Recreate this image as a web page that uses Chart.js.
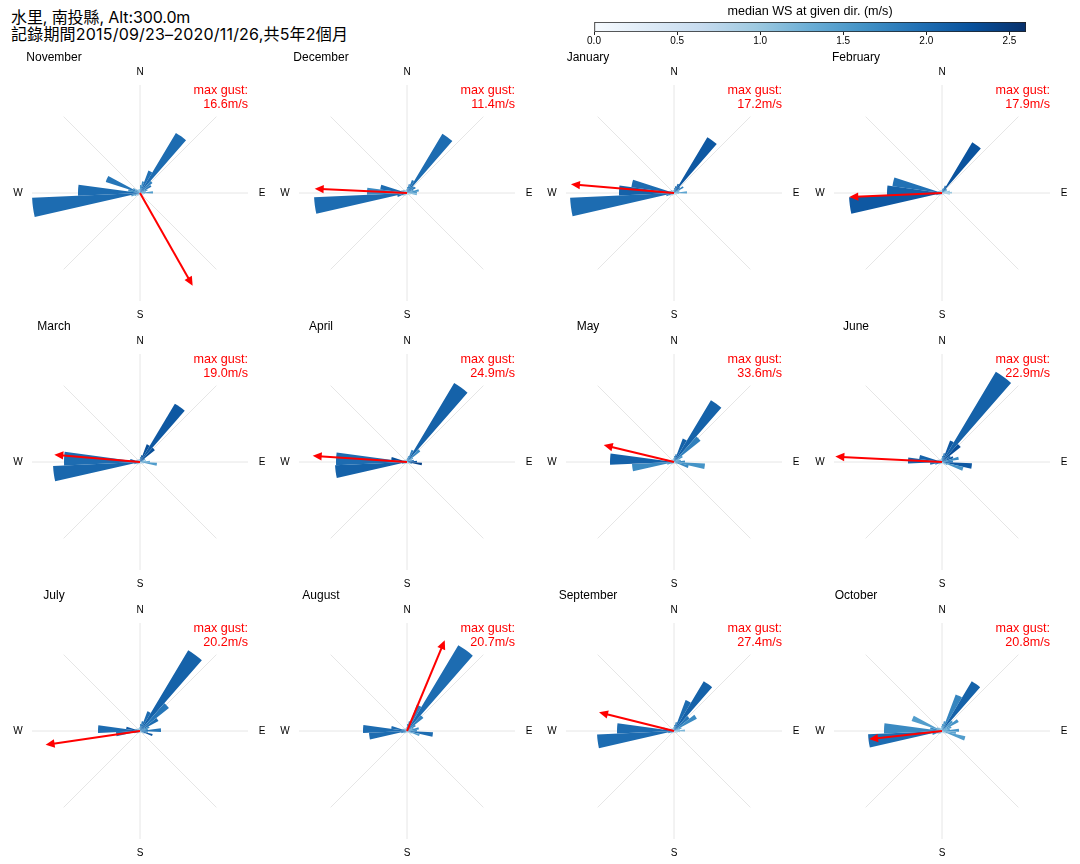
<!DOCTYPE html>
<html>
<head>
<meta charset="utf-8">
<script src="https://cdn.jsdelivr.net/npm/chart.js@4/dist/chart.umd.js"></script>
<style>
  html, body { margin: 0; padding: 0; background: #fff; }
  #page { position: relative; width: 1080px; height: 864px; overflow: hidden; }
  #page canvas { position: absolute; }
  #heading {
    position: absolute; left: 11px; top: 9px;
    font: 16px/17px Inter, "Noto Sans CJK TC", sans-serif; color: #000;
  }
  #heading .first { letter-spacing: -0.1px; }
  #heading .second { letter-spacing: 0.2px; }
</style>
</head>
<body>
<div id="page">
  <div id="heading"><span class="first">水里, 南投縣, Alt:300.0m</span><br><span class="second">記錄期間2015/09/23–2020/11/26,共5年2個月</span></div>
  <canvas id="colorbar" width="472" height="51" style="left:574px;top:0"></canvas>
</div>
<script>
const FONT = '"Liberation Sans", sans-serif'

const monthNames = ['November', 'December', 'January', 'February', 'March', 'April', 'May', 'June', 'July', 'August', 'September', 'October']
const maxGust = [16.6, 11.4, 17.2, 17.9, 19.0, 24.9, 33.6, 22.9, 20.2, 20.7, 27.4, 20.8]
const gustDir = [150.4, 272.7, 274.8, 267.5, 274.9, 273.8, 283.6, 272.9, 261.7, 22.6, 284, 263.7]
const gustLen = [106.6, 92.4, 103.4, 92.8, 86, 94.5, 72.3, 106.8, 95.4, 98.2, 77.3, 73.4]
const compass = ['N', 'E', 'S', 'W']
const colorbarTicks = [0, 0.5, 1, 1.5, 2, 2.5]

// frequency per direction bin (35 bins clockwise from north)
const novFreq = [8, 12, 24, 70, 16, 13, 8, 6, 13, 5, 4, 3, 3, 3, 2, 2, 2, 2, 2, 2, 3, 3, 4, 6, 9, 108, 62, 12, 36, 8, 5, 4, 4, 3, 4]
const decFreq = [6, 9, 14, 69, 9, 10, 7, 12, 10, 10, 4, 3, 3, 2, 2, 2, 2, 2, 2, 2, 3, 3, 4, 5, 10, 93, 40, 27, 6, 5, 4, 4, 3, 3, 4]
const janFreq = [5, 7, 10, 65, 8, 11, 6, 5, 13, 5, 3, 3, 2, 2, 2, 2, 2, 2, 2, 2, 3, 3, 3, 5, 8, 104, 55, 43, 5, 4, 4, 3, 3, 3, 3]
const febFreq = [4, 5, 8, 59, 6, 6, 5, 8, 10, 8, 3, 2, 2, 2, 2, 2, 2, 2, 2, 2, 2, 3, 3, 4, 6, 93, 55, 50, 4, 3, 3, 3, 3, 2, 3]
const marFreq = [5, 7, 19, 68, 19, 6, 4, 6, 10, 17, 4, 3, 2, 2, 2, 2, 2, 2, 2, 2, 2, 3, 3, 4, 6, 87, 76, 10, 4, 4, 3, 3, 3, 3, 3]
const aprFreq = [4, 6, 13, 92, 17, 7, 5, 7, 10, 15, 5, 3, 2, 2, 2, 2, 2, 2, 2, 2, 2, 2, 3, 3, 5, 72, 71, 16, 4, 3, 3, 3, 2, 2, 3]
const mayFreq = [6, 8, 25, 72, 34, 10, 6, 7, 11, 31, 15, 4, 3, 2, 2, 2, 2, 2, 2, 2, 2, 3, 3, 4, 7, 42, 64, 8, 4, 3, 3, 3, 3, 3, 4]
const junFreq = [6, 9, 23, 105, 24, 10, 12, 17, 11, 30, 22, 6, 4, 3, 2, 2, 2, 2, 2, 2, 2, 3, 3, 4, 7, 12, 34, 23, 5, 4, 3, 3, 3, 3, 4]
const julFreq = [7, 10, 21, 94, 37, 21, 10, 8, 21, 8, 13, 5, 3, 2, 2, 2, 2, 2, 2, 2, 2, 3, 3, 4, 6, 24, 42, 14, 5, 4, 3, 3, 3, 3, 4]
const augFreq = [7, 10, 28, 100, 21, 10, 7, 12, 10, 26, 13, 5, 3, 2, 2, 2, 2, 2, 2, 2, 2, 3, 3, 4, 6, 38, 44, 16, 5, 4, 3, 3, 3, 3, 4]
const sepFreq = [6, 9, 33, 58, 20, 26, 8, 6, 11, 6, 4, 3, 3, 2, 2, 2, 2, 2, 2, 2, 2, 3, 3, 4, 6, 77, 57, 11, 5, 4, 3, 3, 3, 3, 4]
const octFreq = [7, 10, 39, 58, 14, 19, 10, 8, 17, 14, 24, 5, 3, 3, 2, 2, 2, 2, 2, 2, 3, 3, 4, 5, 10, 74, 58, 12, 32, 6, 4, 4, 3, 3, 5]

// median wind speed per direction bin (m/s)
const novWs = [1.6, 1.7, 1.95, 2.0, 1.8, 1.9, 1.6, 1.5, 1.5, 1.2, 1.1, 1.0, 0.9, 0.9, 0.8, 0.8, 0.8, 0.8, 0.8, 0.9, 0.9, 1.0, 1.1, 1.3, 1.5, 2.0, 2.0, 1.6, 1.9, 1.6, 1.4, 1.3, 1.2, 1.1, 1.3]
const decWs = [1.6, 1.8, 1.9, 2.0, 1.8, 1.9, 1.6, 1.6, 1.5, 1.2, 1.0, 0.9, 0.9, 0.8, 0.8, 0.8, 0.8, 0.8, 0.8, 0.9, 0.9, 1.0, 1.1, 1.3, 2.0, 2.0, 1.7, 2.0, 1.6, 1.4, 1.3, 1.2, 1.1, 1.1, 1.3]
const janWs = [1.7, 1.9, 2.0, 2.2, 2.0, 1.8, 1.5, 1.4, 1.4, 1.2, 1.0, 0.9, 0.8, 0.8, 0.8, 0.8, 0.8, 0.8, 0.8, 0.9, 0.9, 1.0, 1.1, 1.4, 1.8, 2.0, 2.1, 2.0, 1.6, 1.4, 1.3, 1.2, 1.1, 1.1, 1.3]
const febWs = [1.6, 1.8, 1.9, 2.25, 1.8, 1.5, 1.2, 1.0, 1.0, 0.9, 0.8, 0.8, 0.8, 0.7, 0.7, 0.7, 0.7, 0.7, 0.8, 0.8, 0.8, 0.9, 1.0, 1.3, 1.7, 2.2, 2.1, 1.95, 1.6, 1.3, 1.2, 1.1, 1.0, 1.0, 1.2]
const marWs = [1.8, 2.1, 2.3, 2.2, 2.3, 1.9, 1.5, 1.4, 1.3, 1.5, 1.1, 0.9, 0.8, 0.8, 0.8, 0.8, 0.8, 0.8, 0.8, 0.8, 0.9, 1.0, 1.1, 1.4, 1.7, 2.05, 2.0, 2.2, 1.6, 1.4, 1.2, 1.1, 1.1, 1.1, 1.3]
const aprWs = [1.6, 1.7, 1.8, 2.1, 1.7, 1.5, 1.5, 1.9, 2.2, 2.4, 1.6, 1.0, 0.9, 0.8, 0.8, 0.8, 0.8, 0.8, 0.8, 0.8, 0.9, 1.0, 1.1, 1.4, 1.7, 2.1, 2.0, 2.3, 1.6, 1.4, 1.2, 1.1, 1.1, 1.1, 1.3]
const mayWs = [1.6, 1.8, 2.1, 2.1, 1.8, 1.6, 1.5, 1.5, 1.7, 1.6, 1.7, 1.2, 1.0, 0.9, 0.8, 0.8, 0.8, 0.8, 0.8, 0.9, 0.9, 1.0, 1.1, 1.4, 1.6, 1.7, 2.1, 1.8, 1.5, 1.3, 1.2, 1.1, 1.1, 1.1, 1.3]
const junWs = [1.7, 1.9, 2.2, 2.1, 2.3, 2.0, 2.2, 1.7, 1.8, 2.2, 1.6, 1.4, 1.1, 0.9, 0.8, 0.8, 0.8, 0.8, 0.8, 0.9, 0.9, 1.0, 1.2, 1.5, 1.9, 2.0, 2.1, 2.1, 1.6, 1.4, 1.3, 1.2, 1.1, 1.1, 1.3]
const julWs = [1.7, 1.9, 2.0, 2.1, 1.9, 2.0, 1.7, 1.6, 1.9, 1.7, 2.2, 1.4, 1.1, 0.9, 0.8, 0.8, 0.8, 0.8, 0.8, 0.9, 0.9, 1.0, 1.2, 1.5, 1.8, 1.9, 2.0, 2.2, 1.6, 1.4, 1.3, 1.2, 1.1, 1.1, 1.3]
const augWs = [1.6, 1.7, 1.8, 2.0, 1.8, 1.7, 1.5, 1.7, 1.6, 2.0, 1.5, 1.2, 1.0, 0.9, 0.8, 0.8, 0.8, 0.8, 0.8, 0.9, 0.9, 1.0, 1.2, 1.5, 1.8, 2.0, 2.0, 2.0, 1.6, 1.4, 1.3, 1.2, 1.1, 1.1, 1.3]
const sepWs = [1.6, 1.8, 2.0, 2.1, 1.9, 1.7, 1.5, 1.3, 1.2, 1.1, 1.0, 0.9, 0.9, 0.8, 0.8, 0.8, 0.8, 0.8, 0.8, 0.9, 0.9, 1.0, 1.1, 1.4, 1.8, 2.0, 2.0, 2.0, 1.6, 1.4, 1.3, 1.2, 1.1, 1.1, 1.3]
const octWs = [1.5, 1.6, 1.75, 2.1, 1.6, 1.6, 1.5, 1.4, 1.6, 1.4, 1.5, 1.1, 1.0, 0.9, 0.8, 0.8, 0.8, 0.8, 0.8, 0.9, 1.0, 1.1, 1.2, 1.4, 1.7, 2.0, 1.7, 1.7, 1.5, 1.4, 1.3, 1.2, 1.1, 1.1, 1.3]

const freqByMonth = [novFreq, decFreq, janFreq, febFreq, marFreq, aprFreq, mayFreq, junFreq, julFreq, augFreq, sepFreq, octFreq]
const wsByMonth = [novWs, decWs, janWs, febWs, marWs, aprWs, mayWs, junWs, julWs, augWs, sepWs, octWs]

const COL_X = [140, 407, 674, 942]
const ROW_Y = [193, 462, 731]
const CANVAS_SIZE = 290
const RADIUS = 108
const WS_MAX = 2.6
const BLUES = ['#f7fbff', '#deebf7', '#c6dbef', '#9ecae1', '#6baed6', '#4292c6', '#2171b5', '#08519c', '#08306b']

function hexToRgb(hex) {
  return [1, 3, 5].map(i => parseInt(hex.slice(i, i + 2), 16))
}

function bluesColor(ws) {
  const pos = Math.min(ws / WS_MAX, 1) * (BLUES.length - 1)
  const i = Math.min(Math.floor(pos), BLUES.length - 2)
  const a = hexToRgb(BLUES[i])
  const b = hexToRgb(BLUES[i + 1])
  const c = a.map((v, n) => Math.round(v + (b[n] - v) * (pos - i)))
  return `rgb(${c[0]}, ${c[1]}, ${c[2]})`
}

const roseDecor = {
  id: 'roseDecor',
  beforeDatasetsDraw(chart) {
    const { ctx } = chart
    const r = chart.scales.r
    ctx.save()
    ctx.strokeStyle = '#e6e6e6'
    ctx.lineWidth = 1
    for (let deg = 0; deg < 360; deg += 45) {
      const a = deg * Math.PI / 180
      ctx.beginPath()
      ctx.moveTo(r.xCenter, r.yCenter)
      ctx.lineTo(r.xCenter + r.drawingArea * Math.sin(a), r.yCenter - r.drawingArea * Math.cos(a))
      ctx.stroke()
    }
    ctx.restore()
  },
  afterDatasetsDraw(chart, args, opts) {
    const { ctx } = chart
    const r = chart.scales.r
    const cx = r.xCenter
    const cy = r.yCenter

    // gust arrow
    const a = opts.gustDir * Math.PI / 180
    const len = r.getDistanceFromCenterForValue(opts.gustLen)
    const ux = Math.sin(a)
    const uy = -Math.cos(a)
    const tipX = cx + len * ux
    const tipY = cy + len * uy
    ctx.save()
    ctx.strokeStyle = '#ff0000'
    ctx.fillStyle = '#ff0000'
    ctx.lineWidth = 2
    ctx.beginPath()
    ctx.moveTo(cx, cy)
    ctx.lineTo(tipX - 6 * ux, tipY - 6 * uy)
    ctx.stroke()
    ctx.beginPath()
    ctx.moveTo(tipX, tipY)
    ctx.lineTo(tipX - 9 * ux - 4.2 * uy, tipY - 9 * uy + 4.2 * ux)
    ctx.lineTo(tipX - 9 * ux + 4.2 * uy, tipY - 9 * uy - 4.2 * ux)
    ctx.closePath()
    ctx.fill()

    // texts
    ctx.textBaseline = 'middle'
    ctx.fillStyle = '#ff0000'
    ctx.textAlign = 'right'
    ctx.font = `12.6px ${FONT}`
    ctx.fillText('max gust:', cx + RADIUS, cy - 102)
    ctx.fillText(`${opts.gust.toFixed(1)}m/s`, cx + RADIUS, cy - 88)

    ctx.fillStyle = '#000'
    ctx.textAlign = 'center'
    ctx.font = `12px ${FONT}`
    ctx.fillText(opts.month, cx - 86, cy - 135)
    ctx.font = `10px ${FONT}`
    compass.forEach((label, i) => {
      const b = i * Math.PI / 2
      ctx.fillText(label, cx + 122 * Math.sin(b), cy + 0.5 - 121.5 * Math.cos(b))
    })
    ctx.restore()
  }
}

function createRose(i) {
  const canvas = document.createElement('canvas')
  canvas.width = CANVAS_SIZE
  canvas.height = CANVAS_SIZE
  canvas.style.left = `${COL_X[i % 4] - CANVAS_SIZE / 2}px`
  canvas.style.top = `${ROW_Y[Math.floor(i / 4)] - CANVAS_SIZE / 2}px`
  document.getElementById('page').appendChild(canvas)

  return new Chart(canvas, {
    type: 'polarArea',
    data: {
      labels: freqByMonth[i].map((_, k) => String(k)),
      datasets: [{
        data: freqByMonth[i],
        backgroundColor: wsByMonth[i].map(bluesColor),
        borderWidth: 0
      }]
    },
    options: {
      responsive: false,
      animation: false,
      layout: { padding: (CANVAS_SIZE - RADIUS * 2) / 2 },
      scales: {
        r: {
          min: 0,
          max: RADIUS,
          ticks: { display: false },
          grid: { display: false },
          angleLines: { display: false },
          pointLabels: { display: false }
        }
      },
      plugins: {
        legend: { display: false },
        tooltip: { enabled: false },
        roseDecor: { month: monthNames[i], gust: maxGust[i], gustDir: gustDir[i], gustLen: gustLen[i] }
      }
    },
    plugins: [roseDecor]
  })
}

function createColorbar() {
  return new Chart(document.getElementById('colorbar'), {
    type: 'bar',
    data: {
      labels: ['ws'],
      datasets: [{
        data: [WS_MAX],
        barPercentage: 1,
        categoryPercentage: 1,
        borderWidth: 1,
        borderColor: '#222',
        borderSkipped: false,
        backgroundColor(context) {
          const { ctx, chartArea } = context.chart
          if (!chartArea) return BLUES[6]
          const g = ctx.createLinearGradient(chartArea.left, 0, chartArea.right, 0)
          BLUES.forEach((c, n) => g.addColorStop(n / (BLUES.length - 1), c))
          return g
        }
      }]
    },
    options: {
      indexAxis: 'y',
      responsive: false,
      animation: false,
      layout: { padding: { left: 20, right: 20, top: 0, bottom: 4 } },
      scales: {
        x: {
          min: 0,
          max: WS_MAX,
          afterBuildTicks(axis) {
            axis.ticks = colorbarTicks.map(value => ({ value }))
          },
          border: { display: false },
          grid: { drawOnChartArea: false, tickLength: 3, color: '#222' },
          ticks: {
            maxRotation: 0,
            autoSkip: false,
            padding: 0,
            color: '#000',
            font: { family: FONT, size: 10 },
            callback: value => value.toFixed(1)
          }
        },
        y: { display: false }
      },
      plugins: {
        legend: { display: false },
        tooltip: { enabled: false },
        title: {
          display: true,
          text: 'median WS at given dir. (m/s)',
          color: '#000',
          font: { family: FONT, size: 12.6, weight: 'normal' },
          padding: { top: 4, bottom: 3 }
        }
      }
    }
  })
}

monthNames.forEach((_, i) => createRose(i))
createColorbar()
</script>
</body>
</html>
